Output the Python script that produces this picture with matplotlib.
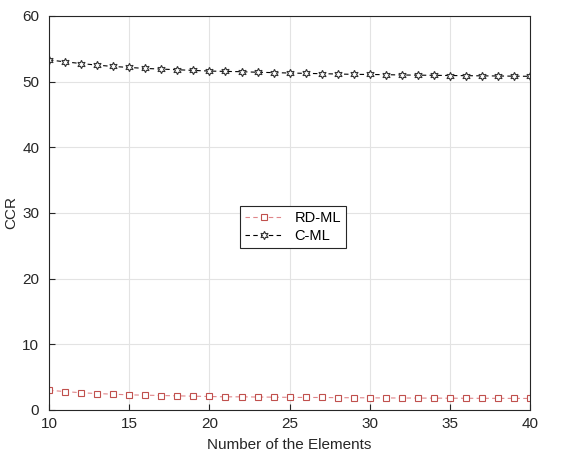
import matplotlib
matplotlib.use('Agg')
import matplotlib.pyplot as plt

plt.rcParams['font.family'] = ['Liberation Sans', 'DejaVu Sans']

# elements count
n = list(range(10, 41))
# RD-ML values
rd_ml = [3.0, 2.8, 2.62, 2.5, 2.4, 2.3, 2.25, 2.2, 2.15, 2.1, 2.05,
         2.0, 2.0, 1.97, 1.95, 1.92, 1.9, 1.9, 1.87, 1.86, 1.85,
         1.83, 1.82, 1.81, 1.8, 1.79, 1.78, 1.77, 1.77, 1.76, 1.75]
# C-ML values
c_ml = [53.3, 53.0, 52.75, 52.5, 52.3, 52.15, 52.0, 51.9, 51.8, 51.7, 51.6,
        51.55, 51.5, 51.42, 51.36, 51.3, 51.25, 51.2, 51.15, 51.1, 51.08,
        51.05, 51.0, 50.98, 50.95, 50.92, 50.9, 50.87, 50.85, 50.82, 50.8]

fig = plt.figure(figsize=(5.65, 4.54), dpi=100)
ax = fig.add_axes([0.0867, 0.097, 0.852, 0.868])

ax.plot(n, rd_ml, linestyle=(0, (4, 3)), color='#e0868a', linewidth=0.8,
        marker='s', markersize=5, markerfacecolor='white',
        markeredgecolor='#c0504d', markeredgewidth=0.8, label='RD-ML')
ax.plot(n, c_ml, linestyle=(0, (4, 3)), color='black', linewidth=0.8,
        marker=(6, 1, 0), markersize=6, markerfacecolor='white',
        markeredgecolor='#333333', markeredgewidth=0.8, label='C-ML')

ax.set_xlim(10, 40)
ax.set_ylim(0, 60)
ax.set_xticks(range(10, 41, 5))
ax.set_yticks(range(0, 61, 10))
ax.grid(True, color='#e3e3e3', linewidth=0.8)
ax.set_axisbelow(True)
ax.tick_params(direction='in', length=4, labelsize=11, colors='#262626')
ax.tick_params(axis='y', pad=7)
ax.tick_params(axis='x', pad=5)
for s in ax.spines.values():
    s.set_color('#262626')
    s.set_linewidth(0.8)

ax.set_xlabel('Number of the Elements', fontsize=11, color='#262626', labelpad=5)
ax.set_ylabel('CCR', fontsize=11, color='#262626', labelpad=3)

leg = ax.legend(loc='center', bbox_to_anchor=(0.507, 0.464), fontsize=10.5,
                fancybox=False, framealpha=1, edgecolor='#262626',
                handlelength=2.6, borderpad=0.35, labelspacing=0.3)
leg.get_frame().set_linewidth(0.8)

plt.savefig('out.png', dpi=100)
